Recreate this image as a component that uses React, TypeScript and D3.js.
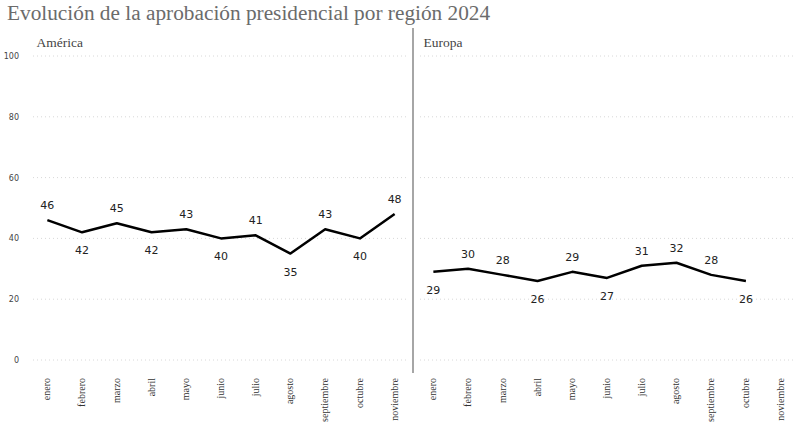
import * as d3 from "d3";

const months = [
  "enero",
  "febrero",
  "marzo",
  "abril",
  "mayo",
  "junio",
  "julio",
  "agosto",
  "septiembre",
  "octubre",
  "noviembre",
];

const america = [46, 42, 45, 42, 43, 40, 41, 35, 43, 40, 48];
const europa = [29, 30, 28, 26, 29, 27, 31, 32, 28, 26, null];

const yTicks = [0, 20, 40, 60, 80, 100];

const panels = [
  { name: "América", values: america, x0: 30, x1: 412 },
  { name: "Europa", values: europa, x0: 416, x1: 798 },
];

const W = 800;
const H = 443;
const serif = "'Liberation Serif', 'DejaVu Serif', serif";

const y = d3.scaleLinear().domain([0, 100]).range([360, 56]);

// below the line only when the point is a trough
const isTrough = (vals: (number | null)[], i: number) => {
  const v = vals[i] as number;
  const p = i > 0 ? vals[i - 1] : null;
  const n = i < vals.length - 1 ? vals[i + 1] : null;
  const nb = [p, n].filter((d) => d != null) as number[];
  return nb.length > 0 && nb.every((d) => v < d);
};

const Panel = ({ p, gridX0, gridX1 }: any) => {
  const x = d3.scaleBand<string>().domain(months).range([p.x0, p.x1]);
  const cx = (m: string) => (x(m) as number) + x.bandwidth() / 2;
  const pts = months
    .map((m, i) => ({ m, v: p.values[i], i }))
    .filter((d) => d.v != null);
  const line = d3
    .line<any>()
    .x((d) => cx(d.m))
    .y((d) => y(d.v));

  return (
    <g>
      {yTicks.map((t) => (
        <line
          key={t}
          x1={gridX0}
          x2={gridX1}
          y1={y(t)}
          y2={y(t)}
          stroke="#d8d8d8"
          strokeDasharray="1,3"
        />
      ))}
      <text x={gridX0 + 3.5} y={47} fontFamily={serif} fontSize={13.5} fill="#444">
        {p.name}
      </text>
      <path d={line(pts) || ""} fill="none" stroke="#000" strokeWidth={2.5} strokeLinejoin="round" />
      {pts.map((d) => {
        const below = isTrough(p.values, d.i);
        return (
          <text
            key={d.m}
            x={cx(d.m)}
            y={y(d.v) + (below ? 22 : -11)}
            textAnchor="middle"
            fontFamily="'DejaVu Sans', sans-serif"
            fontSize={11}
            fill="#222"
          >
            {d.v}
          </text>
        );
      })}
      {months.map((m) => (
        <text
          key={m}
          transform={`translate(${cx(m) + 3},378) rotate(-90)`}
          textAnchor="end"
          fontFamily={serif}
          fontSize={10}
          fill="#333"
        >
          {m}
        </text>
      ))}
    </g>
  );
};

export default function App() {
  return (
    <svg
      width={W}
      height={H}
      style={{ position: "absolute", left: 0, top: 0, background: "#fff" }}
    >
      <text x={7} y={20} fontFamily={serif} fontSize={21.3} fill="#6b6b6b">
        Evolución de la aprobación presidencial por región 2024
      </text>
      {yTicks.map((t) => (
        <text
          key={t}
          x={19}
          y={y(t) + 3}
          textAnchor="end"
          fontFamily="'DejaVu Sans', sans-serif"
          fontSize={8}
          fill="#444"
        >
          {t}
        </text>
      ))}
      <Panel p={panels[0]} gridX0={33} gridX1={408} />
      <Panel p={panels[1]} gridX0={420} gridX1={793} />
      <line x1={413} x2={413} y1={28} y2={373} stroke="#888" strokeWidth={1.5} />
    </svg>
  );
}
